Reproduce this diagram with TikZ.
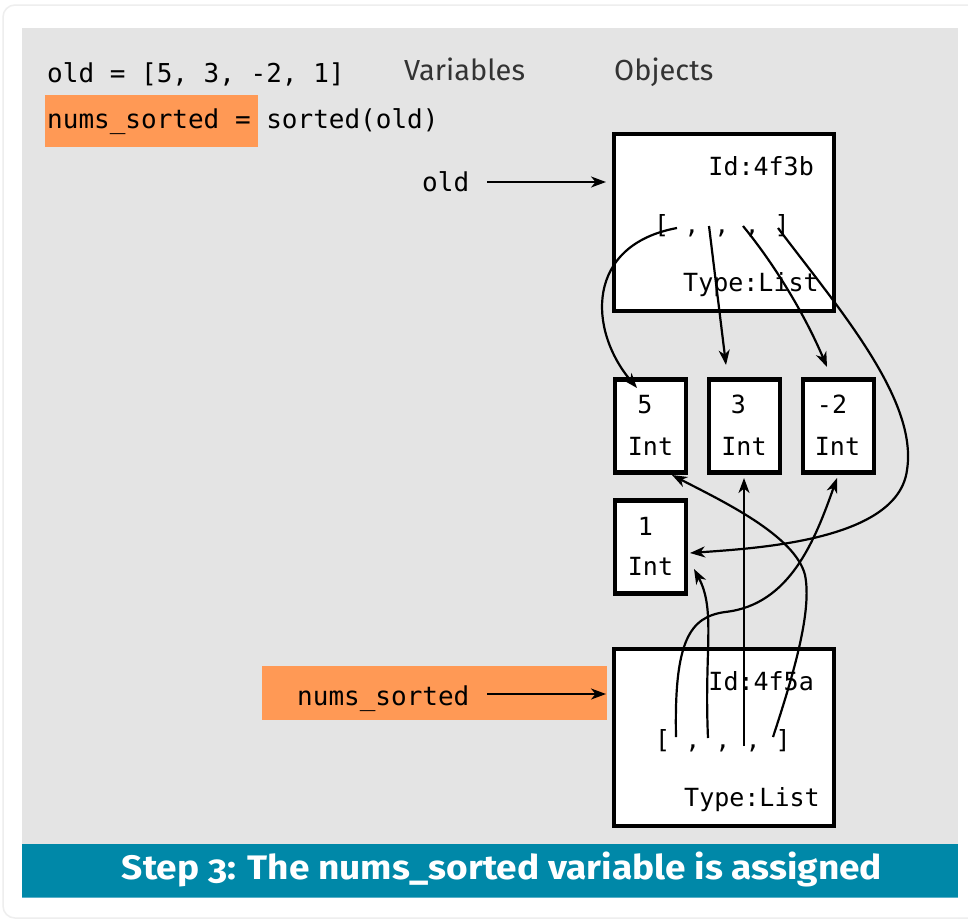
\documentclass[tikz,border=0pt]{standalone}
\usepackage{fontspec}
\setmonofont{DejaVu Sans Mono}
\newfontfamily\titlefont[Numbers=OldStyle]{Fira Sans}
\newfontfamily\labelfont{Fira Sans}
\usetikzlibrary{arrows.meta}
\definecolor{panel}{HTML}{E4E4E4}
\definecolor{hl}{HTML}{FF9955}
\definecolor{teal}{HTML}{0088A8}
\definecolor{teallight}{HTML}{5AB0C8}
\definecolor{frame}{HTML}{EEEEEE}
\tikzset{
  code/.style={inner sep=0pt, font=\ttfamily\fontsize{26}{30}\selectfont},
  small/.style={inner sep=0pt, font=\ttfamily\fontsize{25}{29}\selectfont},
  objbox/.style={draw=black, fill=white, line width=4.5pt, inner sep=0pt, minimum width=220pt, minimum height=177pt},
  intbox/.style={draw=black, fill=white, line width=4.5pt, inner sep=0pt, minimum width=71pt, minimum height=93pt},
  conn/.style={line width=2.2pt, -{Stealth[length=15pt,width=11pt,inset=4.5pt]}},
}
\begin{document}
\begin{tikzpicture}[x=1pt,y=-1pt]
\useasboundingbox (0,0) rectangle (968,922);
\fill[white] (0,0) rectangle (968,922);
\draw[frame, line width=1.5pt, rounded corners=12pt] (3,5) rectangle (990,918);
\fill[panel] (22,28) rectangle (958,844);
\fill[teal] (22,844) rectangle (958,898);
\draw[teallight, line width=1.5pt] (22,897.5) -- (958,897.5);
\node[white, inner sep=0pt, anchor=base, font=\titlefont\bfseries\fontsize{34}{38}\selectfont] (title) at (502,879) {\scalebox{1.09}[1]{Step 3: The nums\_sorted variable is assigned}};

% code
\node[code, anchor=base west] (line1) at (47,82) {old = [5, 3, -2, 1]};
\fill[hl] (45,95) rectangle (258,147);
\node[code, anchor=base west] (line2) at (47,128) {nums\_sorted = sorted(old)};
\node[inner sep=0pt, anchor=base west, font=\labelfont\fontsize{29}{33}\selectfont, text=black!80] (vars) at (404,80) {Variables};
\node[inner sep=0pt, anchor=base west, font=\labelfont\fontsize{29}{33}\selectfont, text=black!80] (objs) at (614,80) {Objects};

% variables
\node[code, anchor=base west] (vold) at (422,191) {old};
\fill[hl] (262,666) rectangle (607,720);
\node[code, anchor=base west] (vnums) at (297,705) {nums\_sorted};
\draw[conn] (487,182) -- (606,182);
\draw[conn] (487,694) -- (606,694);

% objects
\node[objbox] (oldbox) at (724,222.5) {};
\node[small, anchor=base east] (oldid) at (814,175) {Id:4f3b};
\node[small, anchor=base west] (oldlist) at (654,233) {[ , , , ]};
\node[small, anchor=base west] (oldtype) at (683,291) {Type:List};

\node[objbox] (newbox) at (724,737.5) {};
\node[small, anchor=base east] (newid) at (814,690) {Id:4f5a};
\node[small, anchor=base west] (newlist) at (655,748) {[ , , , ]};
\node[small, anchor=base west] (newtype) at (684,806) {Type:List};

\node[intbox] (i5) at (650.5,426) {};
\node[intbox] (i3) at (744.5,426) {};
\node[intbox] (im2) at (838.5,426) {};
\node[intbox] (i1) at (650.5,547) {};
\node[small, anchor=base] (t5) at (645,413) {5};
\node[small, anchor=base] (n5) at (650.5,455) {Int};
\node[small, anchor=base] (t3) at (738.5,413) {3};
\node[small, anchor=base] (n3) at (744,455) {Int};
\node[small, anchor=base] (tm2) at (832,413) {-2};
\node[small, anchor=base] (nm2) at (837.5,455) {Int};
\node[small, anchor=base] (t1) at (645.5,535) {1};
\node[small, anchor=base] (n1) at (650.5,575) {Int};

% connector ends
\coordinate (a1) at (677,228);
\coordinate (a2) at (709,226);
\coordinate (a3) at (743,226);
\coordinate (a4) at (778,228);
\coordinate (e5) at (637,388);
\coordinate (e3) at (726,365);
\coordinate (em2) at (827,367);
\coordinate (e1r) at (690,553);
\coordinate (b1) at (676,737);
\coordinate (b2) at (708,738);
\coordinate (b3) at (744,746);
\coordinate (b4) at (773,737);
\coordinate (f2) at (837,478);
\coordinate (f1) at (694,569);
\coordinate (f3) at (744,478);
\coordinate (f5) at (672,475);

\draw[conn] (a1) .. controls (585,245) and (588,330) .. (e5);
\draw[conn] (a2) -- (e3);
\draw[conn] (a3) .. controls (775,265) and (805,315) .. (em2);
\draw[conn] (a4) .. controls (840,310) and (918,400) .. (907,470) .. controls (898,540) and (760,548) .. (e1r);

\draw[conn] (b1) .. controls (674,640) and (690,617) .. (725,612) .. controls (790,605) and (815,540) .. (f2);
\draw[conn] (b2) .. controls (704,650) and (716,610) .. (f1);
\draw[conn] (b3) -- (f3);
\draw[conn] (b4) .. controls (795,670) and (812,610) .. (805,575) .. controls (795,535) and (720,500) .. (f5);
\end{tikzpicture}
\end{document}
